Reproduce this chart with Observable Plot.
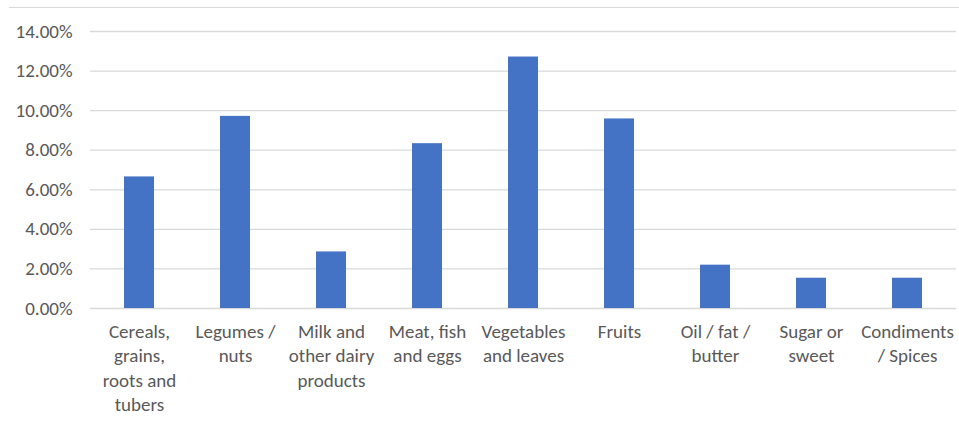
<!DOCTYPE html>
<html>
<head>
<meta charset="utf-8">
<script src="https://cdn.jsdelivr.net/npm/d3@7"></script>
<script src="https://cdn.jsdelivr.net/npm/@observablehq/plot@0.6"></script>
<style>
  html, body { margin: 0; padding: 0; background: #fff; }
  #wrap { position: relative; width: 959px; height: 426px; }
  #border { position: absolute; left: 9px; right: 0; top: 7px; border-top: 1px solid #d9d9d9; }
</style>
</head>
<body>
<div id="wrap"><div id="border"></div></div>
<script>
const categories = ["Cereals", "Legumes", "Milk", "Meat", "Vegetables", "Fruits", "Oil", "Sugar", "Condiments"];
const labels = [
  "Cereals,\ngrains,\nroots and\ntubers",
  "Legumes /\nnuts",
  "Milk and\nother dairy\nproducts",
  "Meat, fish\nand eggs",
  "Vegetables\nand leaves",
  "Fruits",
  "Oil / fat /\nbutter",
  "Sugar or\nsweet",
  "Condiments\n/ Spices"
];
const values = [0.0665, 0.0971, 0.0286, 0.0833, 0.1271, 0.0958, 0.0219, 0.0153, 0.0153];
const yTicks = [0, 0.02, 0.04, 0.06, 0.08, 0.10, 0.12, 0.14];

const data = categories.map((c, i) => ({category: c, label: labels[i], value: values[i]}));
const labelOf = new Map(categories.map((c, i) => [c, labels[i]]));

const chart = Plot.plot({
  width: 959,
  height: 426,
  marginLeft: 90,
  marginRight: 3,
  marginTop: 31,
  marginBottom: 118,
  style: { fontFamily: "Carlito, Calibri, Lato, sans-serif", fontSize: "19px", color: "#595959", background: "transparent" },
  x: { domain: categories, paddingInner: 0.69, paddingOuter: 0.345 },
  y: { domain: [0, 0.14] },
  marks: [
    Plot.ruleY(yTicks, { stroke: "#d9d9d9", strokeWidth: 1.3 }),
    Plot.barY(data, { x: "category", y: "value", fill: "#4472C4" }),
    Plot.axisY({ ticks: yTicks, tickFormat: d => (d * 100).toFixed(2) + "%", tickSize: 0, tickPadding: 18, label: null, fill: "#595959", fontSize: 19 }),
    Plot.axisX({ tickFormat: d => labelOf.get(d), tickSize: 0, tickPadding: 12, label: null, lineHeight: 1.29, textAnchor: "middle", fill: "#595959", fontSize: 19, lineAnchor: "top" })
  ]
});
document.getElementById("wrap").appendChild(chart);
chart.style.position = "absolute";
chart.style.left = "0";
chart.style.top = "0";
</script>
</body>
</html>
